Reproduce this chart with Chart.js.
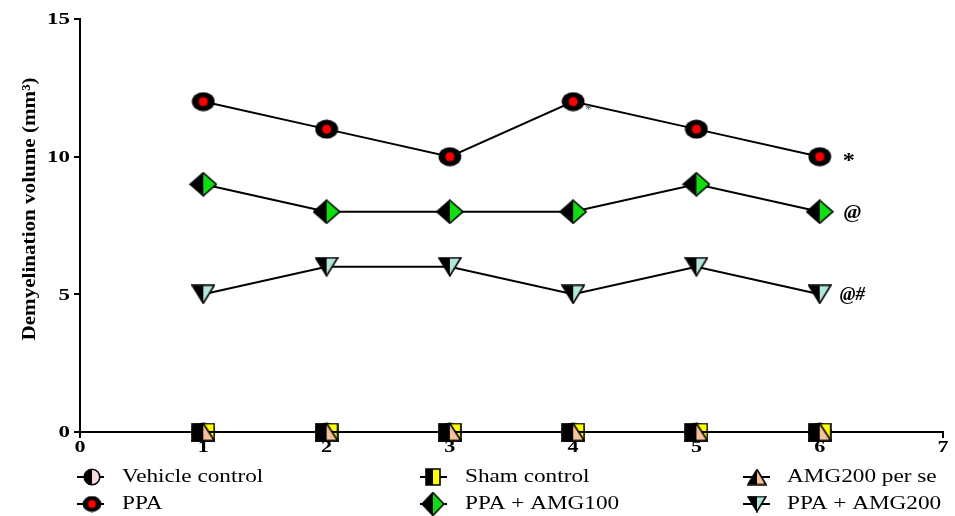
<!DOCTYPE html>
<html>
<head>
<meta charset="utf-8">
<script src="https://cdn.jsdelivr.net/npm/chart.js@4/dist/chart.umd.min.js"></script>
<style>
html,body{margin:0;padding:0;background:#fff;}
#wrap{width:955px;height:516px;position:relative;}
</style>
</head>
<body>
<div id="wrap"><canvas id="c" width="955" height="516"></canvas></div>
<script>
// ---- data ----
const xValues = [1, 2, 3, 4, 5, 6];
const vehicleControl = [0, 0, 0, 0, 0, 0];
const shamControl = [0, 0, 0, 0, 0, 0];
const amg200PerSe = [0, 0, 0, 0, 0, 0];
const ppa = [12, 11, 10, 12, 11, 10];
const ppaAmg100 = [9, 8, 8, 8, 9, 8];
const ppaAmg200 = [5, 6, 6, 5, 6, 5];
const seriesNames = ['Vehicle control', 'PPA', 'Sham control', 'PPA + AMG100', 'AMG200 per se', 'PPA + AMG200'];
const yTicks = [0, 5, 10, 15];
const xTicks = [0, 1, 2, 3, 4, 5, 6, 7];
const yTitle = 'Demyelination volume (mm³)';
const annotations = [
  {series: 'PPA', x: 6, y: 10, text: '*'},
  {series: 'PPA + AMG100', x: 6, y: 8, text: '@'},
  {series: 'PPA + AMG200', x: 6, y: 5, text: '@#'}
];

// ---- marker images ----
function mk(w, h, draw) {
  const c = document.createElement('canvas');
  c.width = w; c.height = h;
  const g = c.getContext('2d');
  draw(g, w, h);
  return c;
}
function halfShape(g, w, h, pathFn, rightColor) {
  g.save();
  pathFn(g); g.clip();
  g.fillStyle = '#000'; g.fillRect(0, 0, w / 2, h);
  g.fillStyle = rightColor; g.fillRect(w / 2, 0, w / 2, h);
  g.restore();
  pathFn(g);
  g.lineWidth = 1.6; g.strokeStyle = '#000'; g.stroke();
}
function circleImg(w, h, right) {
  return mk(w, h, (g) => halfShape(g, w, h, (g) => { g.beginPath(); g.ellipse(w/2, h/2, w/2-1.2, h/2-1.2, 0, 0, Math.PI*2); }, right));
}
function ppaImg(w, h) {
  return mk(w, h, (g) => {
    g.beginPath(); g.ellipse(w/2, h/2, w/2-0.6, h/2-0.6, 0, 0, Math.PI*2); g.fillStyle = '#000'; g.fill();
    g.beginPath(); g.ellipse(w/2, h/2, w*0.19, h*0.23, 0, 0, Math.PI*2); g.fillStyle = '#ff0000'; g.fill();
  });
}
function squareImg(w, h, right) {
  return mk(w, h, (g) => halfShape(g, w, h, (g) => { g.beginPath(); g.rect(1, 1, w-2, h-2); }, right));
}
function diamondImg(w, h, right) {
  return mk(w, h, (g) => halfShape(g, w, h, (g) => { g.beginPath(); g.moveTo(w/2, 1); g.lineTo(w-1, h/2); g.lineTo(w/2, h-1); g.lineTo(1, h/2); g.closePath(); }, right));
}
function triUpImg(w, h, right) {
  return mk(w, h, (g) => halfShape(g, w, h, (g) => { g.beginPath(); g.moveTo(w/2, 1); g.lineTo(w-1, h-1); g.lineTo(1, h-1); g.closePath(); }, right));
}
function triDownImg(w, h, right) {
  return mk(w, h, (g) => halfShape(g, w, h, (g) => { g.beginPath(); g.moveTo(1, 1); g.lineTo(w-1, 1); g.lineTo(w/2, h-1); g.closePath(); }, right));
}
const PINK = '#f8dada', YELLOW = '#ffff00', PEACH = '#f5c29c', GREEN = '#11dd11', CYAN = '#b2e6dc';
const markers = {
  'Vehicle control': circleImg(24, 20, PINK),
  'PPA': ppaImg(24, 20),
  'Sham control': squareImg(24, 19, YELLOW),
  'PPA + AMG100': diamondImg(28, 25, GREEN),
  'AMG200 per se': triUpImg(24, 19, PEACH),
  'PPA + AMG200': triDownImg(24, 20, CYAN)
};
const legendMarkers = {
  'Vehicle control': circleImg(18, 18, PINK),
  'PPA': ppaImg(20, 17),
  'Sham control': squareImg(16, 18, YELLOW),
  'PPA + AMG100': diamondImg(24, 25, GREEN),
  'AMG200 per se': triUpImg(20, 17, PEACH),
  'PPA + AMG200': triDownImg(20, 17, CYAN)
};

function toPts(arr) { return xValues.map((x, i) => ({x: x, y: arr[i]})); }
function ds(name, arr, order) {
  return {
    label: name, data: toPts(arr), order: order, clip: false,
    borderColor: '#000', borderWidth: 2, showLine: true,
    pointStyle: markers[name], pointRadius: 10, pointHoverRadius: 10,
    tension: 0
  };
}

const SERIF = '"Liberation Serif", "Times New Roman", serif';

function stretchText(g, text, x, y, sx, align) {
  g.save();
  g.translate(x, y);
  g.scale(sx, 1);
  g.textAlign = align;
  g.fillText(text, 0, 0);
  g.restore();
}

const overlay = {
  id: 'overlay',
  afterDraw(chart) {
    const g = chart.ctx;
    const xs = chart.scales.x, ys = chart.scales.y;

    // tick labels
    g.save();
    g.fillStyle = '#000'; g.textBaseline = 'middle';
    g.font = 'bold 17px ' + SERIF;
    yTicks.forEach(v => stretchText(g, String(v), 70, ys.getPixelForValue(v) + 1, 1.35, 'right'));
    xTicks.forEach(v => stretchText(g, String(v), xs.getPixelForValue(v), 448, 1.3, 'center'));
    g.restore();

    // y title
    g.save();
    g.translate(30, 209);
    g.rotate(-Math.PI / 2);
    g.font = 'bold 19px ' + SERIF;
    g.fillStyle = '#000'; g.textBaseline = 'middle';
    const tw = g.measureText(yTitle).width;
    stretchText(g, yTitle, 0, 0, 263 / tw, 'center');
    g.restore();

    // annotations
    g.save();
    g.fillStyle = '#000'; g.textBaseline = 'middle'; g.textAlign = 'left';
    annotations.forEach(a => {
      const px = xs.getPixelForValue(a.x), py = ys.getPixelForValue(a.y);
      if (a.text === '*') { g.font = 'bold 22px ' + SERIF; stretchText(g, a.text, px + 23, py + 5, 1.1, 'left'); }
      else if (a.text === '@') { g.font = 'bold italic 19px ' + SERIF; stretchText(g, a.text, px + 24, py + 1, 1.1, 'left'); }
      else { g.font = 'bold italic 18px ' + SERIF; stretchText(g, a.text, px + 20, py + 1, 1.05, 'left'); }
    });
    // small faint star near PPA point 4
    g.font = '13px ' + SERIF; g.fillStyle = '#555';
    g.fillText('*', xs.getPixelForValue(4) + 12, ys.getPixelForValue(12) + 8);
    g.restore();

    // legend
    const cols = [
      {mx: 92, lx1: 77, lx2: 104, tx: 122},
      {mx: 433, lx1: 420, lx2: 447, tx: 465},
      {mx: 757, lx1: 743, lx2: 770, tx: 787}
    ];
    const rows = [477, 504];
    g.save();
    g.font = '18px ' + SERIF; g.fillStyle = '#000'; g.textBaseline = 'middle';
    seriesNames.forEach((name, i) => {
      const c = cols[Math.floor(i / 2)], y = rows[i % 2];
      g.strokeStyle = '#000'; g.lineWidth = 2;
      g.beginPath(); g.moveTo(c.lx1, y); g.lineTo(c.lx2, y); g.stroke();
      const img = legendMarkers[name];
      g.drawImage(img, c.mx - img.width / 2, y - img.height / 2);
      stretchText(g, name, c.tx, y, 1.29, 'left');
    });
    g.restore();
  }
};

new Chart(document.getElementById('c'), {
  type: 'scatter',
  data: {
    datasets: [
      ds('Vehicle control', vehicleControl, 6),
      ds('Sham control', shamControl, 5),
      ds('AMG200 per se', amg200PerSe, 4),
      ds('PPA', ppa, 3),
      ds('PPA + AMG100', ppaAmg100, 2),
      ds('PPA + AMG200', ppaAmg200, 1)
    ]
  },
  options: {
    responsive: false, animation: false,
    layout: {padding: {left: 0, right: 11, top: 19, bottom: 0}},
    plugins: {legend: {display: false}, tooltip: {enabled: false}},
    scales: {
      x: {
        type: 'linear', min: 0, max: 7,
        afterBuildTicks: (s) => { s.ticks = xTicks.map(v => ({value: v})); },
        afterFit: (s) => { s.height = 84; },
        border: {display: true, color: '#000', width: 2},
        grid: {drawOnChartArea: false, drawTicks: true, tickLength: 6, color: '#000', lineWidth: 2},
        ticks: {display: false}
      },
      y: {
        type: 'linear', min: 0, max: 15,
        afterBuildTicks: (s) => { s.ticks = yTicks.map(v => ({value: v})); },
        afterFit: (s) => { s.width = 80; },
        border: {display: true, color: '#000', width: 2},
        grid: {drawOnChartArea: false, drawTicks: true, tickLength: 6, color: '#000', lineWidth: 2},
        ticks: {display: false}
      }
    }
  },
  plugins: [overlay]
});
</script>
</body>
</html>
